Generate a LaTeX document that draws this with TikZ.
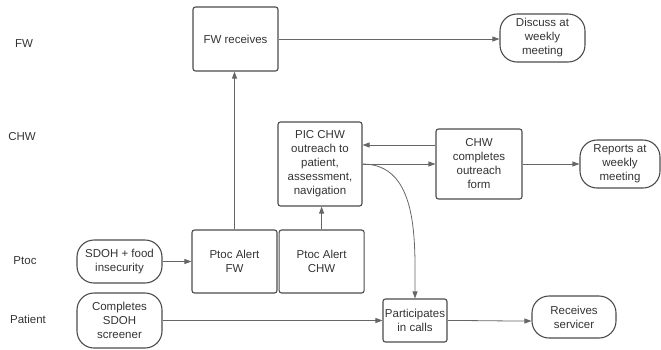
\documentclass[tikz,border=0pt]{standalone}
\usepackage{fontspec}
\setmainfont{Liberation Sans}
\usetikzlibrary{positioning}
\usetikzlibrary{arrows,arrows.meta}

\begin{document}
\begin{tikzpicture}[
        x=1pt, y=-1pt,
        >={Triangle[length=7pt,width=5pt]},
        every node/.style = {font=\fontsize{11.5}{14}\selectfont, text=black!80},
        task/.style = {draw=black!70, line width=1.1pt, rounded corners=2.5pt, align=center, inner sep=1pt},
        term/.style = {draw=black!70, line width=1.1pt, rounded corners=17pt, align=center, inner sep=1pt},
        flow/.style = {->, draw=black!60, line width=0.8pt}
    ]
    \useasboundingbox (0,0) rectangle (661,349);
    % lane labels
    \node (lfw) at (24,44) {FW};
    \node (lchw) at (22,137) {CHW};
    \node (lptoc) at (25,261) {Ptoc};
    \node (lpat) at (28,319) {Patient};
    % FW lane
    \node[task, minimum width=85pt, minimum height=64pt] (fwrec) at (235.5,39) {FW receives};
    \node[term, minimum width=85pt, minimum height=48pt] (discuss) at (542.5,38) {Discuss at\\weekly\\meeting};
    % CHW lane
    \node[task, minimum width=84pt, minimum height=84pt] (pic) at (320,164) {PIC CHW\\outreach to\\patient,\\assessment,\\navigation};
    \node[task, minimum width=86pt, minimum height=70pt] (form) at (479,164) {CHW\\completes\\outreach\\form};
    \node[term, minimum width=80pt, minimum height=48pt] (reports) at (620,164) {Reports at\\weekly\\meeting};
    % Ptoc lane
    \node[term, minimum width=85pt, minimum height=43pt] (sdoh) at (119.5,261.5) {SDOH + food\\insecurity};
    \node[task, minimum width=85pt, minimum height=63pt] (ptocfw) at (234.5,261.5) {Ptoc Alert\\FW};
    \node[task, minimum width=85pt, minimum height=63pt, right=1pt of ptocfw] (ptocchw) {Ptoc Alert\\CHW};
    % Patient lane
    \node[term, minimum width=85pt, minimum height=55pt] (screener) at (119.5,320.5) {Completes\\SDOH\\screener};
    \node[task, minimum width=64pt, minimum height=43pt] (part) at (415,320.5) {Participates\\in calls};
    \node[term, minimum width=84pt, minimum height=42pt] (recv) at (574,317) {Receives\\servicer};
    % connectors
    \draw[flow] (fwrec.east) -- (fwrec.east -| discuss.west);
    \draw[flow] (ptocfw.north) -- (ptocfw.north |- fwrec.south);
    \draw[flow] (ptocchw.north) -- (ptocchw.north |- pic.south);
    \draw[flow] (sdoh.east) -- (ptocfw.west);
    \draw[flow] ([yshift=19pt]form.west) -- ([yshift=19pt]form.west -| pic.east);
    \draw[flow] (pic.east) -- (form.west);
    \draw[flow] (pic.east) to[out=0, in=90] (part.north);
    \draw[flow] (form.east) -- (reports.west);
    \draw[flow] (screener.east) -- (screener.east -| part.west);
    \draw[flow] (part.east) to[out=0, in=180] ([yshift=-4pt]recv.west);
\end{tikzpicture}
\end{document}
